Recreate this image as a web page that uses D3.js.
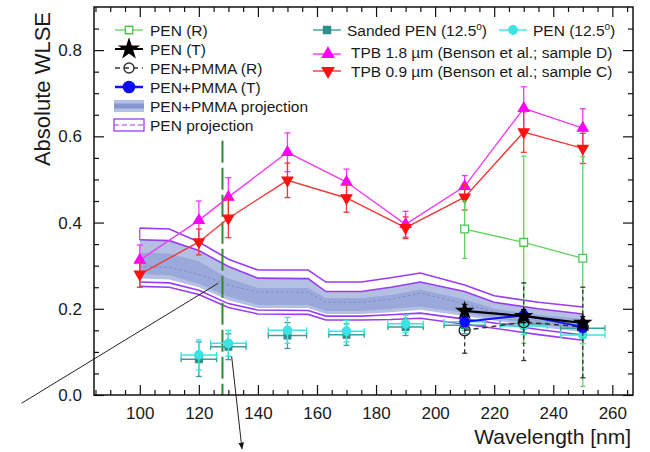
<!DOCTYPE html>
<meta charset="utf-8">
<style>
  body { margin: 0; background: white; }
  text { font-family: "Liberation Sans", Arial, sans-serif; fill: #1a1a1a; }
  .tick text { font-size: 17px; }
  .leg { font-size: 15.5px; }
  .title { font-size: 21px; }
</style>
<script src="https://d3js.org/d3.v7.min.js" charset="utf-8"></script>
<body>
<script>

  var w = 650, h = 452;

  // ---- data ----
  var xTicks = [100, 120, 140, 160, 180, 200, 220, 240, 260];
  var yTicks = [0.0, 0.2, 0.4, 0.6, 0.8];

  // TPB reference points (Benson et al.)
  var tpbWl = [100, 120, 130, 150, 170, 190, 210, 230, 250];
  var tpb18 = [0.313, 0.405, 0.459, 0.563, 0.494, 0.396, 0.484, 0.665, 0.619];
  var tpb18Err = [0.035, 0.045, 0.045, 0.045, 0.03, 0.03, 0.025, 0.05, 0.045];
  var tpb09 = [0.280, 0.355, 0.410, 0.498, 0.457, 0.388, 0.459, 0.610, 0.572];
  var tpb09Err = [0.03, 0.03, 0.045, 0.04, 0.033, 0.025, 0.03, 0.047, 0.035];

  // PEN / PEN+PMMA measured at 210-250 nm
  var smpWl = [210, 230, 250];
  var penR = [0.385, 0.354, 0.317];
  var penRLo = [0.317, 0.12, 0.02];
  var penRHi = [0.45, 0.554, 0.553];
  var penT = [0.195, 0.183, 0.167];
  var penTErr = [0.015, 0.015, 0.015];
  var pmmaT = [0.170, 0.185, 0.158];
  var pmmaTErr = [0.012, 0.012, 0.012];
  var pmmaR = [0.150, 0.169, 0.158];
  var pmmaRLo = [0.097, 0.080, 0.040];
  var pmmaRHi = [0.200, 0.260, 0.250];

  // 12.5 degree measurements
  var angWl = [120, 130, 150, 170, 190, 210, 230, 250];
  var angWlErr = [6, 6, 6.5, 6, 6, 7, 8, 7.5];
  var pen125 = [0.093, 0.120, 0.150, 0.148, 0.165, 0.170, 0.160, 0.139];
  var pen125Err = [0.035, 0.03, 0.03, 0.025, 0.02, 0.02, 0.02, 0.02];
  var sanded = [0.083, 0.112, 0.138, 0.140, 0.158, 0.162, 0.165, 0.155];
  var sandedErr = [0.04, 0.03, 0.03, 0.025, 0.02, 0.02, 0.02, 0.02];

  // projection bands
  var bandWl   = [100, 110, 120, 130, 140, 157, 163, 175, 185, 195, 210, 220, 235, 250];
  var penHi2   = [0.387, 0.385, 0.355, 0.315, 0.290, 0.290, 0.262, 0.262, 0.272, 0.283, 0.255, 0.230, 0.215, 0.204];
  var pmmaHi2  = [0.360, 0.358, 0.335, 0.298, 0.271, 0.270, 0.240, 0.240, 0.250, 0.262, 0.240, 0.215, 0.200, 0.188];
  var pmmaHi1  = [0.330, 0.328, 0.310, 0.270, 0.248, 0.248, 0.225, 0.225, 0.232, 0.245, 0.222, 0.200, 0.186, 0.176];
  var pmmaMid  = [0.298, 0.296, 0.280, 0.255, 0.239, 0.238, 0.215, 0.215, 0.222, 0.236, 0.212, 0.192, 0.178, 0.166];
  var pmmaLo1  = [0.280, 0.278, 0.258, 0.228, 0.209, 0.209, 0.195, 0.195, 0.200, 0.205, 0.190, 0.178, 0.163, 0.152];
  var pmmaLo2  = [0.270, 0.268, 0.250, 0.220, 0.202, 0.202, 0.188, 0.188, 0.192, 0.198, 0.183, 0.173, 0.158, 0.146];
  var penLo1   = [0.262, 0.260, 0.243, 0.212, 0.197, 0.196, 0.183, 0.183, 0.186, 0.190, 0.176, 0.167, 0.152, 0.139];
  var penLo2   = [0.252, 0.250, 0.233, 0.203, 0.188, 0.187, 0.174, 0.174, 0.175, 0.178, 0.164, 0.155, 0.140, 0.127];

  var cutWl = 128;     // dashed vertical line
  var cutTop = 0.59;

  // annotation lines [wl, value]
  var note1 = [[60, -0.019], [126.5, 0.259]];
  var note2 = [[131.1, 0.09], [134.6, -0.125]];

  // ---- scales ----
  var x = d3.scaleLinear().domain([84.5, 267]).range([94, 633]);
  var y = d3.scaleLinear().domain([0, 0.9]).range([395, 7]);

  var svg = d3.select("body").append("svg")
              .attr("width", w)
              .attr("height", h);

  svg.append("defs").append("marker")
     .attr("id", "arr")
     .attr("viewBox", "0 0 10 10")
     .attr("refX", 9).attr("refY", 5)
     .attr("markerWidth", 7).attr("markerHeight", 7)
     .attr("orient", "auto")
     .append("path").attr("d", "M0,1 L10,5 L0,9 Z").attr("fill", "#111");

  var purple = "#9a3cf0";

  // ---- bands ----
  function band(lo, hi) {
    return d3.area()
             .x(function (d, i) { return x(bandWl[i]); })
             .y0(function (d, i) { return y(lo[i]); })
             .y1(function (d, i) { return y(hi[i]); })(bandWl);
  }
  function curve(vals) {
    return d3.line()
             .x(function (d, i) { return x(bandWl[i]); })
             .y(function (d, i) { return y(vals[i]); })(bandWl);
  }

  svg.append("path").attr("d", band(pmmaLo2, pmmaHi2)).attr("fill", "#b4bfe4");
  svg.append("path").attr("d", band(pmmaLo1, pmmaHi1)).attr("fill", "#9aa9da");
  svg.append("path").attr("d", curve(pmmaMid)).attr("fill", "none")
     .attr("stroke", "#7585c4").attr("stroke-width", 1).attr("stroke-dasharray", "2,3");

  [penHi2, pmmaHi2, penLo1, penLo2].forEach(function (c) {
    svg.append("path").attr("d", curve(c)).attr("fill", "none")
       .attr("stroke", purple).attr("stroke-width", 1.6);
  });
  // left closing edges of the bands
  svg.append("line").attr("x1", x(100)).attr("x2", x(100))
     .attr("y1", y(penHi2[0])).attr("y2", y(pmmaHi2[0]))
     .attr("stroke", purple).attr("stroke-width", 1.2);
  svg.append("line").attr("x1", x(100)).attr("x2", x(100))
     .attr("y1", y(penLo1[0])).attr("y2", y(penLo2[0]))
     .attr("stroke", purple).attr("stroke-width", 1.2);

  // ---- dashed vertical cut ----
  svg.append("line")
     .attr("x1", x(cutWl)).attr("x2", x(cutWl))
     .attr("y1", y(cutTop)).attr("y2", y(0))
     .attr("stroke", "#2e8b2e").attr("stroke-width", 2)
     .attr("stroke-dasharray", "22,5");

  // ---- annotation lines ----
  svg.append("line")
     .attr("x1", x(note1[0][0])).attr("y1", y(note1[0][1]))
     .attr("x2", x(note1[1][0])).attr("y2", y(note1[1][1]))
     .attr("stroke", "#222").attr("stroke-width", 1);
  svg.append("line")
     .attr("x1", x(note2[0][0])).attr("y1", y(note2[0][1]))
     .attr("x2", x(note2[1][0])).attr("y2", y(note2[1][1]))
     .attr("stroke", "#222").attr("stroke-width", 1)
     .attr("marker-end", "url(#arr)");

  // ---- helpers ----
  function vErr(xs, vals, lo, hi, color, dash, cap) {
    xs.forEach(function (wl, i) {
      var g = svg.append("g");
      g.append("line").attr("x1", x(wl)).attr("x2", x(wl))
       .attr("y1", y(lo[i])).attr("y2", y(hi[i]))
       .attr("stroke", color).attr("stroke-width", 1.3)
       .attr("stroke-dasharray", dash || null);
      [lo[i], hi[i]].forEach(function (v) {
        g.append("line").attr("x1", x(wl) - cap).attr("x2", x(wl) + cap)
         .attr("y1", y(v)).attr("y2", y(v))
         .attr("stroke", color).attr("stroke-width", 1.3);
      });
    });
  }
  function hErr(xs, xe, vals, color) {
    xs.forEach(function (wl, i) {
      svg.append("line").attr("x1", x(wl - xe[i])).attr("x2", x(wl + xe[i]))
         .attr("y1", y(vals[i])).attr("y2", y(vals[i]))
         .attr("stroke", color).attr("stroke-width", 1.5);
      [wl - xe[i], wl + xe[i]].forEach(function (e) {
        svg.append("line").attr("x1", x(e)).attr("x2", x(e))
           .attr("y1", y(vals[i]) - 3).attr("y2", y(vals[i]) + 3)
           .attr("stroke", color).attr("stroke-width", 1.3);
      });
    });
  }
  function connect(xs, vals, color, width, dash) {
    svg.append("path")
       .attr("d", d3.line().x(function (d, i) { return x(xs[i]); })
                           .y(function (d, i) { return y(vals[i]); })(xs))
       .attr("fill", "none").attr("stroke", color)
       .attr("stroke-width", width).attr("stroke-dasharray", dash || null);
  }
  function marks(xs, vals, type, size, fill, stroke, rot) {
    svg.selectAll(null).data(xs).enter().append("path")
       .attr("d", d3.symbol().type(type).size(size))
       .attr("transform", function (d, i) {
         return "translate(" + x(d) + "," + y(vals[i]) + ")" + (rot ? " rotate(" + rot + ")" : "");
       })
       .attr("fill", fill).attr("stroke", stroke).attr("stroke-width", 1.3);
  }
  function lohi(vals, err) {
    return [vals.map(function (v, i) { return v - err[i]; }),
            vals.map(function (v, i) { return v + err[i]; })];
  }

  // ---- 12.5 degree points ----
  var se = lohi(sanded, sandedErr);
  hErr(angWl, angWlErr, sanded, "#3a9e9a");
  vErr(angWl, sanded, se[0], se[1], "#3a9e9a", null, 3);
  marks(angWl, sanded, d3.symbolSquare, 45, "#2f8f8a", "#2f8f8a");

  var pe = lohi(pen125, pen125Err);
  hErr(angWl, angWlErr, pen125, "#3de3e3");
  vErr(angWl, pen125, pe[0], pe[1], "#3de3e3", null, 3);
  marks(angWl, pen125, d3.symbolCircle, 55, "#3de3e3", "#3de3e3");

  // ---- TPB ----
  var t18 = lohi(tpb18, tpb18Err);
  var t09 = lohi(tpb09, tpb09Err);
  connect(tpbWl, tpb18, "#f03cf0", 1.4);
  vErr(tpbWl, tpb18, t18[0], t18[1], "#f03cf0", null, 3);
  marks(tpbWl, tpb18, d3.symbolTriangle, 48, "#ff00ff", "#ff00ff");
  connect(tpbWl, tpb09, "#f03a3a", 1.4);
  vErr(tpbWl, tpb09, t09[0], t09[1], "#f03a3a", null, 3);
  marks(tpbWl, tpb09, d3.symbolTriangle, 48, "#ff1010", "#ff1010", 180);

  // ---- PEN (R) ----
  connect(smpWl, penR, "#5fd35f", 1.3);
  vErr(smpWl, penR, penRLo, penRHi, "#5fd35f", null, 2.5);
  marks(smpWl, penR, d3.symbolSquare, 60, "white", "#4cc94c");

  // ---- PEN+PMMA (R) ----
  connect(smpWl, pmmaR, "#333", 1.5, "5,4");
  vErr(smpWl, pmmaR, pmmaRLo, pmmaRHi, "#333", "4,3", 2.5);
  marks(smpWl, pmmaR, d3.symbolCircle, 95, "none", "#222");

  // ---- PEN+PMMA (T) ----
  var pt = lohi(pmmaT, pmmaTErr);
  connect(smpWl, pmmaT, "#1010ff", 2);
  vErr(smpWl, pmmaT, pt[0], pt[1], "#1010ff", null, 2.5);
  marks(smpWl, pmmaT, d3.symbolCircle, 70, "#0a0aff", "#0a0aff");

  // ---- PEN (T) ----
  var tt = lohi(penT, penTErr);
  connect(smpWl, penT, "#000", 2.2);
  vErr(smpWl, penT, tt[0], tt[1], "#000", null, 2.5);
  marks(smpWl, penT, d3.symbolStar, 75, "#000", "#000");

  // ---- axes ----
  var minorX = d3.range(85, 267, 5).filter(function (d) { return d % 20 !== 0; });
  var minorY = d3.range(0.05, 0.9, 0.05).filter(function (d) { return Math.abs(d * 5 - Math.round(d * 5)) > 1e-6; });

  function addAxis(gen, tr, vals, size, labels, pad) {
    var g = svg.append("g").attr("transform", tr)
               .call(gen.tickValues(vals).tickSizeInner(-size).tickSizeOuter(0)
                        .tickPadding(pad || 0)
                        .tickFormat(labels ? labels : ""));
    g.select(".domain").remove();
    g.selectAll(".tick line").attr("stroke", "#111").attr("stroke-width", 1.2);
    return g;
  }
  addAxis(d3.axisBottom(x), "translate(0,395)", xTicks, 10, d3.format("d"), 12);
  addAxis(d3.axisBottom(x), "translate(0,395)", minorX, 5);
  addAxis(d3.axisTop(x), "translate(0,7)", xTicks, 10);
  addAxis(d3.axisTop(x), "translate(0,7)", minorX, 5);
  addAxis(d3.axisLeft(y), "translate(94,0)", yTicks, 10, d3.format(".1f"), 12);
  addAxis(d3.axisLeft(y), "translate(94,0)", minorY, 5);
  addAxis(d3.axisRight(y), "translate(633,0)", yTicks, 10);
  addAxis(d3.axisRight(y), "translate(633,0)", minorY, 5);

  svg.selectAll(".tick text").attr("fill", "#1a1a1a")
     .style("font-family", "'Liberation Sans', Arial, sans-serif");

  svg.append("rect").attr("x", 94).attr("y", 7)
     .attr("width", 633 - 94).attr("height", 395 - 7)
     .attr("fill", "none").attr("stroke", "#111").attr("stroke-width", 1.5);

  svg.append("text").attr("class", "title")
     .attr("text-anchor", "end")
     .attr("x", 631).attr("y", 444)
     .text("Wavelength [nm]");
  svg.append("text").attr("class", "title")
     .attr("text-anchor", "end")
     .style("font-size", "22px")
     .attr("transform", "translate(50,12) rotate(-90)")
     .text("Absolute WLSE");

  // ---- legend ----
  var legLeft = ["PEN (R)", "PEN (T)", "PEN+PMMA (R)", "PEN+PMMA (T)", "PEN+PMMA projection", "PEN projection"];
  var legRows = [30, 49, 68, 87, 106, 125];
  var lx0 = 115, lx1 = 143, lxc = 129, ltx = 150;

  legLeft.forEach(function (t, i) {
    svg.append("text").attr("class", "leg").attr("x", ltx).attr("y", legRows[i] + 5.5).text(t);
  });
  function legLine(yy, x0, x1, color, width, dash) {
    svg.append("line").attr("x1", x0).attr("x2", x1).attr("y1", yy).attr("y2", yy)
       .attr("stroke", color).attr("stroke-width", width).attr("stroke-dasharray", dash || null);
  }
  function legSym(xx, yy, type, size, fill, stroke, rot) {
    svg.append("path").attr("d", d3.symbol().type(type).size(size))
       .attr("transform", "translate(" + xx + "," + yy + ")" + (rot ? " rotate(" + rot + ")" : ""))
       .attr("fill", fill).attr("stroke", stroke).attr("stroke-width", 1.4);
  }
  legLine(legRows[0], lx0, lx1, "#5fd35f", 1.3);
  legSym(lxc, legRows[0], d3.symbolSquare, 55, "white", "#4cc94c");
  legLine(legRows[1], lx0, lx1, "#000", 2);
  legSym(lxc, legRows[1], d3.symbolStar, 100, "#000", "#000");
  legLine(legRows[2], lx0, lx1, "#333", 1.4, "5,4");
  legSym(lxc, legRows[2], d3.symbolCircle, 80, "none", "#333");
  legLine(legRows[3], lx0, lx1, "#1010ff", 2.5);
  legSym(lxc, legRows[3], d3.symbolCircle, 100, "#0a0aff", "#0a0aff");
  svg.append("rect").attr("x", lx0 - 1).attr("y", legRows[4] - 6).attr("width", lx1 - lx0 + 2).attr("height", 12)
     .attr("fill", "#b4bfe4");
  svg.append("rect").attr("x", lx0 - 1).attr("y", legRows[4] - 2.5).attr("width", lx1 - lx0 + 2).attr("height", 5)
     .attr("fill", "#8796d0");
  svg.append("rect").attr("x", lx0 - 1).attr("y", legRows[5] - 6).attr("width", lx1 - lx0 + 2).attr("height", 12)
     .attr("fill", "none").attr("stroke", purple).attr("stroke-width", 1.3);
  legLine(legRows[5], lx0 - 1, lx1 + 1, purple, 1.2, "5,3");

  // right legend
  function deg(sel, pre) {
    sel.append("tspan").text(pre);
    sel.append("tspan").attr("dy", -6).attr("font-size", "10px").text("o");
    sel.append("tspan").attr("dy", 6).text(")");
  }
  legLine(30, 313, 341, "#3a9e9a", 1.4);
  legSym(327, 30, d3.symbolSquare, 50, "#2f8f8a", "#2f8f8a");
  deg(svg.append("text").attr("class", "leg").attr("x", 347).attr("y", 35.5), "Sanded PEN (12.5");
  legLine(30, 499, 527, "#3de3e3", 1.4);
  legSym(513, 30, d3.symbolCircle, 55, "#3de3e3", "#3de3e3");
  deg(svg.append("text").attr("class", "leg").attr("x", 533).attr("y", 35.5), "PEN (12.5");

  legLine(54, 313, 341, "#f03cf0", 1.4);
  legSym(328, 54, d3.symbolTriangle, 55, "#ff00ff", "#ff00ff");
  svg.append("text").attr("class", "leg").attr("x", 351).attr("y", 57.5)
     .text("TPB 1.8 \u00b5m (Benson et al.; sample D)");
  legLine(71, 313, 341, "#f03a3a", 1.4);
  legSym(328, 71, d3.symbolTriangle, 55, "#ff1010", "#ff1010", 180);
  svg.append("text").attr("class", "leg").attr("x", 351).attr("y", 76.5)
     .text("TPB 0.9 \u00b5m (Benson et al.; sample C)");

</script>
</body>
